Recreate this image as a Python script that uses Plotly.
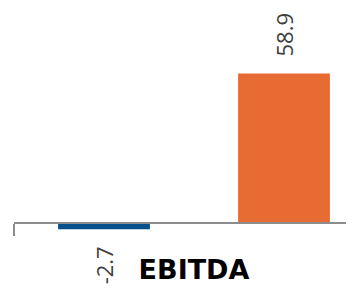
import plotly.graph_objects as go

categories = ["EBITDA"]
series_names = ["Series 1", "Series 2"]
series_values = [[-2.7], [58.9]]
series_colors = ["#03508A", "#E96B34"]
value_labels = ["-2.7", "58.9"]

# the page body has an 8px default margin, so the figure is sized to fill the rest of the window
W, H = 346, 286
ML = 6
cat_px = 360.0
zero_px = 214.5
px_per_unit = 2.53

x_range = [-0.5, -0.5 + (W - ML) / cat_px]
y_range = [-(H - zero_px) / px_per_unit, zero_px / px_per_unit]
zero_pos = -y_range[0] / (y_range[1] - y_range[0])

fig = go.Figure()
for name, vals, col in zip(series_names, series_values, series_colors):
    fig.add_trace(go.Bar(x=categories, y=vals, name=name, marker=dict(color=col, line=dict(width=0))))

n = len(series_names)
annotations = []
for i, (vals, labs) in enumerate(zip(series_values, value_labels)):
    off = -0.5 + (i + 0.5) / n
    for ci, v in enumerate(vals):
        annotations.append(dict(
            x=ci + off, y=v, xref="x", yref="y", text=labs, showarrow=False,
            textangle=-90, yanchor="bottom" if v >= 0 else "top",
            yshift=15 if v >= 0 else -15,
            font=dict(family="Open Sans", size=22, color="#404040"),
        ))

fig.update_layout(
    width=W, height=H,
    margin=dict(l=ML, r=0, t=0, b=0, autoexpand=False),
    paper_bgcolor="white", plot_bgcolor="white",
    barmode="group", bargap=0, bargroupgap=0.49,
    showlegend=False,
    annotations=annotations,
    xaxis=dict(
        type="category", range=x_range, anchor="free", position=zero_pos,
        showline=True, linecolor="#8C8C8C", linewidth=2,
        ticks="outside", ticklen=12, tickwidth=2, tickcolor="#8C8C8C",
        tickson="boundaries", showgrid=False, zeroline=False,
        tickfont=dict(family="DejaVu Sans", size=27, color="black", weight="bold"),
        ticklabelstandoff=23,
        automargin=False,
    ),
    yaxis=dict(range=y_range, visible=False, showgrid=False, zeroline=False, automargin=False),
)

fig.write_html("out.html")
